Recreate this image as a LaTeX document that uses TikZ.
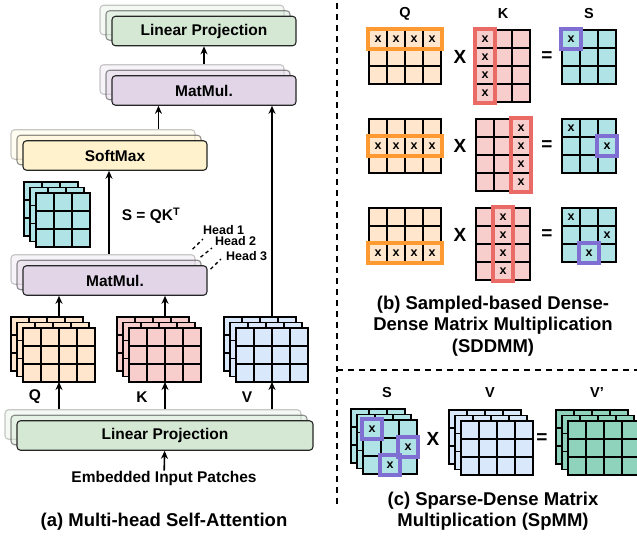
\documentclass[tikz,border=0pt]{standalone}
\usepackage{fontspec}
\setmainfont{Liberation Sans}
\usetikzlibrary{positioning, arrows.meta}

\definecolor{lpgreen}{HTML}{D5E8D4}
\definecolor{mmpurple}{HTML}{E1D5E7}
\definecolor{smyellow}{HTML}{FFF2CC}
\definecolor{qorange}{HTML}{FFE6CC}
\definecolor{kred}{HTML}{F8CECC}
\definecolor{vblue}{HTML}{DAE8FC}
\definecolor{steal}{HTML}{B0E3E6}
\definecolor{vpgreen}{HTML}{8FD3BD}
\definecolor{hlorange}{HTML}{FF9A33}
\definecolor{hlred}{HTML}{EA6B66}
\definecolor{hlpurple}{HTML}{7F6FD2}

\tikzset{
  layerbox/.style={draw=black!85, rounded corners=3.5pt, line width=1.1pt, minimum height=29.5pt, inner sep=0pt, font=\fontsize{15.5}{18}\selectfont\bfseries},
  gridbox/.style={draw=black, line width=1.3pt, inner sep=0pt, outer sep=0pt, rectangle},
  gridline/.style={black, line width=1.3pt},
  arr/.style={-{Stealth[length=8pt,width=7pt]}, line width=1.6pt},
  lbl/.style={font=\fontsize{15.5}{17}\selectfont\bfseries, inner sep=0pt},
  smalllbl/.style={font=\fontsize{14.5}{16}\selectfont\bfseries, inner sep=0pt},
  headlbl/.style={font=\fontsize{12.5}{14}\selectfont\bfseries, inner sep=0pt, anchor=base west},
  headline/.style={line width=1.3pt, dash pattern=on 3.5pt off 3pt},
  xmark/.style={font=\fontsize{12.5}{13}\selectfont\bfseries, inner sep=0pt},
  op/.style={font=\fontsize{19}{20}\selectfont\bfseries, inner sep=0pt},
  caption/.style={font=\fontsize{18.5}{21.5}\selectfont\bfseries, align=center, inner sep=0pt},
  hl/.style={line width=3.5pt},
  sep/.style={line width=2.2pt, dash pattern=on 6pt off 5pt},
}

% three stacked boxes: name, x, y, width, fill, text
\newcommand{\stackbox}[6]{%
  \node[layerbox, fill=#5, minimum width=#4pt, opacity=0.25] (#13) at (#2-12,#3-11) {};
  \node[layerbox, fill=#5, minimum width=#4pt, opacity=0.5] (#12) at (#2-6,#3-5.5) {};
  \node[layerbox, fill=#5, minimum width=#4pt] (#1) at (#2,#3) {#6};
}
% one grid: name, x, y (top left), cols, rows, fill
\newcommand{\gridlayer}[6]{%
  \node[gridbox, fill=#6, minimum width=#4*18pt, minimum height=#5*18pt, anchor=north west] (#1) at (#2,#3) {};
  \pgfmathtruncatemacro{\nc}{#4-1}%
  \pgfmathtruncatemacro{\nr}{#5-1}%
  \foreach \i in {1,...,\nc} {\draw[gridline] (#1.north west) ++(\i*18,0) -- ++(0,#5*18);}
  \foreach \j in {1,...,\nr} {\draw[gridline] (#1.north west) ++(0,\j*18) -- ++(#4*18,0);}
}
\newcommand{\gridstack}[6]{%
  \gridlayer{#13}{#2-12}{#3-11}{#4}{#5}{#6}
  \gridlayer{#12}{#2-6}{#3-5.5}{#4}{#5}{#6}
  \gridlayer{#1}{#2}{#3}{#4}{#5}{#6}
}
% grid, col, row
\newcommand{\cellx}[3]{\node[xmark] at ([shift={({#2*18-9},{#3*18-9})}]#1.north west) {x};}
% grid, col1, row1, col2, row2, colour
\newcommand{\hlrect}[6]{\draw[hl, #6] ([shift={({(#2-1)*18-1},{(#3-1)*18-1})}]#1.north west) rectangle ([shift={({#4*18+1},{#5*18+1})}]#1.north west);}

\begin{document}
\begin{tikzpicture}[x=1pt, y=-1pt]
\useasboundingbox (0,0) rectangle (637,538);

% (a) multi-head self-attention
\stackbox{lpt}{204}{31}{184}{lpgreen}{Linear Projection}
\stackbox{mmt}{204}{90.5}{184}{mmpurple}{MatMul.}
\stackbox{sm}{115}{155.5}{184}{smyellow}{SoftMax}
\stackbox{mmb}{115}{280.5}{184}{mmpurple}{MatMul.}
\stackbox{lpb}{165}{435.5}{296}{lpgreen}{Linear Projection}

\gridstack{sa}{36}{193}{3}{3}{steal}
\gridstack{q}{23}{328}{4}{3}{qorange}
\gridstack{k}{129}{328}{4}{3}{kred}
\gridstack{v}{236}{328}{4}{3}{vblue}

\node[lbl] (sqk) at (151,216) {S = QK\textsuperscript{T}};
\node[lbl] (lq) at (35,397) {Q};
\node[lbl] (lk) at (142,397) {K};
\node[lbl] (lv) at (247,397) {V};
\node[lbl] (emb) at (164,478) {Embedded Input Patches};
\node[caption] (capa) at (164,522) {(a) Multi-head Self-Attention};

\node[headlbl] (hd1) at (203,234) {Head 1};
\node[headlbl] (hd2) at (215,245.5) {Head 2};
\node[headlbl] (hd3) at (226,260) {Head 3};
\draw[headline] ([shift={(-3,-5)}]mmb3.north east) -- ([shift={(0,5)}]hd1.base west);
\draw[headline] ([shift={(-1,-2.5)}]mmb2.north east) -- ([shift={(-3,2.5)}]hd2.base west);
\draw[headline] ([shift={(3,4)}]mmb.north east) -- ([shift={(-5,-1)}]hd3.base west);

\draw[arr] (emb) -- (lpb);
\foreach \m in {q,k,v} \draw[arr] (\m.south |- lpb3.north) -- (\m.south);
\foreach \m in {q,k} \draw[arr] (\m.south |- \m3.north) -- (\m.south |- mmb.south);
\draw[arr] (v.south |- v3.north) -- (v.south |- mmt.south);
\draw[arr] (mmb2.north |- mmb3.north) -- (mmb2.north |- sm.south);
\path (mmt.south west) ++(47,0) coordinate (smup);
\draw[arr] (smup |- sm3.north) -- (smup);
\draw[arr] (lpt.south |- mmt3.north) -- (lpt.south);

% separators
\draw[sep] (337,3) -- (337,508);
\draw[sep] (337,370) -- (637,370);

% (b) SDDMM
\foreach \r/\y in {1/30, 2/119, 3/208} {
  \gridlayer{qb\r}{369}{\y}{4}{3}{qorange}
  \gridlayer{kb\r}{476}{\y}{3}{4}{kred}
  \gridlayer{sb\r}{562}{\y}{3}{3}{steal}
  \node[op] (mul\r) at (460,\y+27) {X};
  \node[op] (eq\r) at (547,\y+27) {=};
}
\node[smalllbl] (lqb) at ([yshift=16pt]qb1.north) {Q};
\node[smalllbl] (lkb) at ([yshift=16pt]kb1.north) {K};
\node[smalllbl] (lsb) at ([yshift=16pt]sb1.north) {S};

\foreach \r/\kc in {1/1, 2/3, 3/2} {
  \foreach \c in {1,...,4} {\cellx{qb\r}{\c}{\r} \cellx{kb\r}{\kc}{\c}}
  \hlrect{qb\r}{1}{\r}{4}{\r}{hlorange}
  \hlrect{kb\r}{\kc}{1}{\kc}{4}{hlred}
}
\cellx{sb1}{1}{1}
\cellx{sb2}{1}{1} \cellx{sb2}{3}{2}
\cellx{sb3}{1}{1} \cellx{sb3}{3}{2} \cellx{sb3}{2}{3}
\hlrect{sb1}{1}{1}{1}{1}{hlpurple}
\hlrect{sb2}{3}{2}{3}{2}{hlpurple}
\hlrect{sb3}{2}{3}{2}{3}{hlpurple}

\node[caption] (capb) at (493,326) {(b) Sampled-based Dense-\\Dense Matrix Multiplication\\(SDDMM)};

% (c) SpMM
\gridstack{sc}{363}{420}{3}{3}{steal}
\gridstack{vc}{461}{421}{4}{3}{vblue}
\gridstack{vp}{568}{421}{4}{3}{vpgreen}
\cellx{sc}{1}{1} \cellx{sc}{3}{2} \cellx{sc}{2}{3}
\hlrect{sc}{1}{1}{1}{1}{hlpurple}
\hlrect{sc}{3}{2}{3}{2}{hlpurple}
\hlrect{sc}{2}{3}{2}{3}{hlpurple}

\node[smalllbl] (lsc) at (387,393) {S};
\node[smalllbl] (lvc) at (490,393) {V};
\node[smalllbl] (lvp) at (597,393) {V'};
\node[op] (mulc) at (433,439) {X};
\node[op] (eqc) at (542,439) {=};

\node[caption] (capc) at (493,511) {(c) Sparse-Dense Matrix\\Multiplication (SpMM)};
\end{tikzpicture}
\end{document}
